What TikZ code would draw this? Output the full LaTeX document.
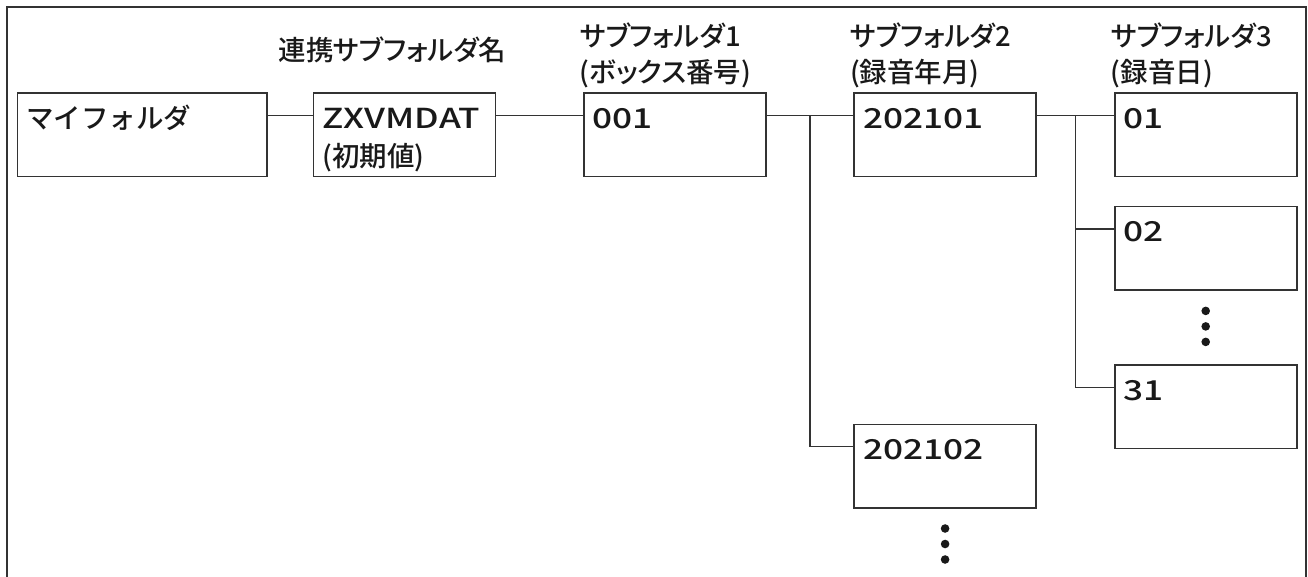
\documentclass[tikz,border=0pt]{standalone}
\usepackage{fontspec}
\setmainfont{Noto Sans CJK JP}[UprightFont={* Medium}]
\newfontfamily\wideface{Noto Sans CJK JP}[UprightFont={* Medium}, FakeStretch=1.28]
\newfontfamily\headface{Noto Sans CJK JP}[UprightFont={* Medium}, RawFeature=+palt]
\usepackage{tikz}
\usetikzlibrary{positioning, calc}

\begin{document}
\begin{tikzpicture}[
x=1pt, y=-1pt,
line width=1.6pt,
every node/.style={text=black!90},
folder/.style={
    draw=black!80, align=left, anchor=north west,
    text width=164pt, inner xsep=9pt, inner ysep=14pt,
    text height=21pt, text depth=34.4pt,
    font=\fontsize{27.5}{38}\selectfont
},
rootfolder/.style={folder, text width=231.4pt},
heading/.style={align=left, inner sep=0pt, font=\headface\fontsize{27.5}{36}\selectfont},
conn/.style={draw=black!80},
dot/.style={fill=black!90}
]
\useasboundingbox (0,0) rectangle (1308,577);
\draw[conn, line width=1.8pt] (6.7,577) -- (6.7,6.7) -- (1306,6.7) -- (1306,577);

\node (myfolder) [rootfolder] at (16.5,92.5) {マイフォルダ};
\node (linked) [folder, right=45.2pt of myfolder] {{\wideface ZXVMDAT}\\(初期値)};
\node (box) [folder, right=86.7pt of linked] {\wideface 001};
\node (month1) [folder, right=86.7pt of box] {\wideface 202101};
\node (month2) [folder, below=246pt of month1] {\wideface 202102};
\node (day1) [folder, right=77pt of month1] {\wideface 01};
\node (day2) [folder, below=28.4pt of day1] {\wideface 02};
\node (day31) [folder, below=73.4pt of day2] {\wideface 31};

\node (linkedname) [heading] at ([xshift=-12pt,yshift=43pt]linked.north) {連携サブフォルダ名};
\node (boxname) [heading, anchor=north west] at ([xshift=-4pt,yshift=71pt]box.north west) {サブフォルダ1\\(ボックス番号)};
\node (monthname) [heading, anchor=north west] at ([xshift=-4pt,yshift=71pt]month1.north west) {サブフォルダ2\\(録音年月)};
\node (dayname) [heading, anchor=north west] at ([xshift=-4pt,yshift=71pt]day1.north west) {サブフォルダ3\\(録音日)};

\draw[conn] ([yshift=-23pt]myfolder.north east) -- ([yshift=-23pt]linked.north west);
\draw[conn] ([yshift=-23pt]linked.north east) -- ([yshift=-23pt]box.north west);
\draw[conn] ([yshift=-23pt]box.north east) -- ([yshift=-23pt]month1.north west);
\draw[conn] ([yshift=-23pt]month1.north east) -- ([yshift=-23pt]day1.north west);

\coordinate (split1) at ([yshift=-23pt]$(box.north east)!.5!(month1.north west)$);
\coordinate (split2) at ([yshift=-23pt]$(month1.north east)!.5!(day1.north west)$);
\draw[conn] (split1) |- ([yshift=-23pt]month2.north west);
\draw[conn] (split2) |- ([yshift=-23pt]day2.north west);
\draw[conn] (split2) |- ([yshift=-23pt]day31.north west);

\foreach \k in {0,1,2} {
  \fill[dot] ([yshift=-20pt-15.5pt*\k]day2.south) circle (4.3pt);
  \fill[dot] ([yshift=-20pt-15.5pt*\k]month2.south) circle (4.3pt);
}
\end{tikzpicture}
\end{document}
